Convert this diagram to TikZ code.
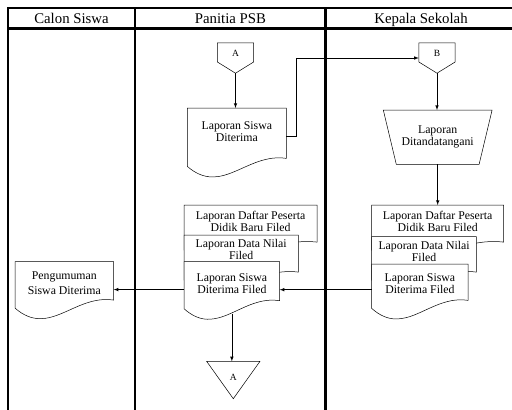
\documentclass[tikz,border=0pt]{standalone}
\usepackage{fontspec}
\setmainfont{Liberation Serif}
\usetikzlibrary{calc,backgrounds}

% Document symbol round a node: name, extra depth of the sides below the node.
\newcommand{\docoutline}[2]{%
\draw[docline] ($(#1.south west)-(0,#2pt)$) -- (#1.north west) -- (#1.north east) -- ($(#1.south east)+(0,{8pt-#2pt})$)
.. controls ($(#1.south west)!0.6!(#1.south east)+(0,{14pt-#2pt})$) and ($(#1.south west)!0.35!(#1.south east)-(0,{30pt+#2pt})$) .. ($(#1.south west)-(0,#2pt)$) -- cycle;}

\begin{document}
\begin{tikzpicture}[x=1pt,y=-1pt]
% This fixes the page size.
\useasboundingbox (0,0) rectangle (512,410);

\tikzstyle{lane}=[line width=2.8pt]
\tikzstyle{lanetitle}=[inner sep=0pt,text height=10pt,text depth=3pt,font=\fontsize{14.8}{16}\selectfont]
\tikzstyle{docbox}=[inner sep=0pt,align=center,anchor=north west,font=\fontsize{11.8}{12}\selectfont]
\tikzstyle{docline}=[draw,line width=0.5pt,fill=white]
\tikzstyle{offpage}=[inner sep=0pt,minimum width=36pt,minimum height=30pt,font=\fontsize{9.5}{10}\selectfont,text height=6.3pt,text depth=9.4pt]
\tikzstyle{flow}=[->,>=latex,line width=0.6pt]

% This draws the swimlanes.
\draw[lane] (512,8) -- (8,8) -- (8,410);
\draw[lane] (8,28.5) -- (512,28.5);
\draw[lane] (135,8) -- (135,410);
\draw[lane] (325.5,8) -- (325.5,410);
\node[lanetitle] (calon) at (71.5,19.8) {Calon Siswa};
\node[lanetitle] (panitia) at (230.5,19.8) {Panitia PSB};
\node[lanetitle] (kepala) at (421,19.8) {Kepala Sekolah};

% This draws the off-page connectors.
\node[offpage] (offA) at (235.5,58) {A};
\node[offpage] (offB) at (437,58) {B};
\node[offpage,minimum width=53pt,minimum height=37pt,text depth=5.4pt] (offEnd) at (233.3,380) {A};

% This draws the documents.
\node[docbox,minimum width=98.7pt,minimum height=46pt] (lsd) at (187.3,108) {Laporan Siswa\\Diterima};
\node[docbox,minimum width=108.4pt,minimum height=54pt] (ttd) at (383.3,110) {Laporan\\Ditandatangani};

\node[docbox,minimum width=132.7pt,minimum height=32pt] (pdoc1) at (184,205) {Laporan Daftar Peserta\\Didik Baru Filed};
\node[docbox,minimum width=114pt,minimum height=29pt] (pdoc2) at (184,235) {Laporan Data Nilai\\Filed};
\node[docbox,minimum width=95.3pt,minimum height=43.3pt] (pdoc3) at (184,261.7) {Laporan Siswa\\Diterima Filed};

\node[docbox,minimum width=131.6pt,minimum height=32pt] (kdoc1) at (371.7,205) {Laporan Daftar Peserta\\Didik Baru Filed};
\node[docbox,minimum width=104.3pt,minimum height=29pt] (kdoc2) at (371.7,236.7) {Laporan Data Nilai\\Filed};
\node[docbox,minimum width=96pt,minimum height=39pt] (kdoc3) at (371.7,264) {Laporan Siswa\\Diterima Filed};

\node[docbox,minimum width=98.3pt,minimum height=42.6pt] (peng) at (15,261.7) {Pengumuman\\[3pt]Siswa Diterima};

% This draws the outlines behind the texts.
\begin{scope}[on background layer]
\draw[docline] (offA.north west) -- (offA.north east) -- ($(offA.north east)!0.63!(offA.south east)$) -- (offA.south) -- ($(offA.north west)!0.63!(offA.south west)$) -- cycle;
\draw[docline] (offB.north west) -- (offB.north east) -- ($(offB.north east)!0.63!(offB.south east)$) -- (offB.south) -- ($(offB.north west)!0.63!(offB.south west)$) -- cycle;
\draw[docline] (offEnd.north west) -- (offEnd.north east) -- (offEnd.south) -- cycle;
\draw[docline] (ttd.north west) -- (ttd.north east) -- ([xshift=-13pt]ttd.south east) -- ([xshift=13pt]ttd.south west) -- cycle;
\docoutline{lsd}{12}
\docoutline{pdoc1}{12.7}
\docoutline{pdoc2}{15.7}
\docoutline{pdoc3}{3.3}
\docoutline{kdoc1}{12.7}
\docoutline{kdoc2}{14}
\docoutline{kdoc3}{5}
\docoutline{peng}{3.4}
\end{scope}

% This draws the flow.
\draw[flow] (offA.south) -- (offA.south |- lsd.north);
\draw[flow] ([yshift=-5pt]lsd.east) -- ++(10,0) |- (offB.west);
\draw[flow] (offB.south) -- (offB.south |- ttd.north);
\draw[flow] (ttd.south) -- (kdoc1.north);
\draw[flow] ([yshift=-6pt]kdoc3.west) -- ([yshift=-6pt]kdoc3.west -| pdoc3.east);
\draw[flow] ([yshift=-6pt]pdoc3.west) -- ([yshift=-6pt]pdoc3.west -| peng.east);
\draw[flow] ([yshift=-8.5pt]pdoc3.south) -- (pdoc3.south |- offEnd.north);

\end{tikzpicture}
\end{document}
